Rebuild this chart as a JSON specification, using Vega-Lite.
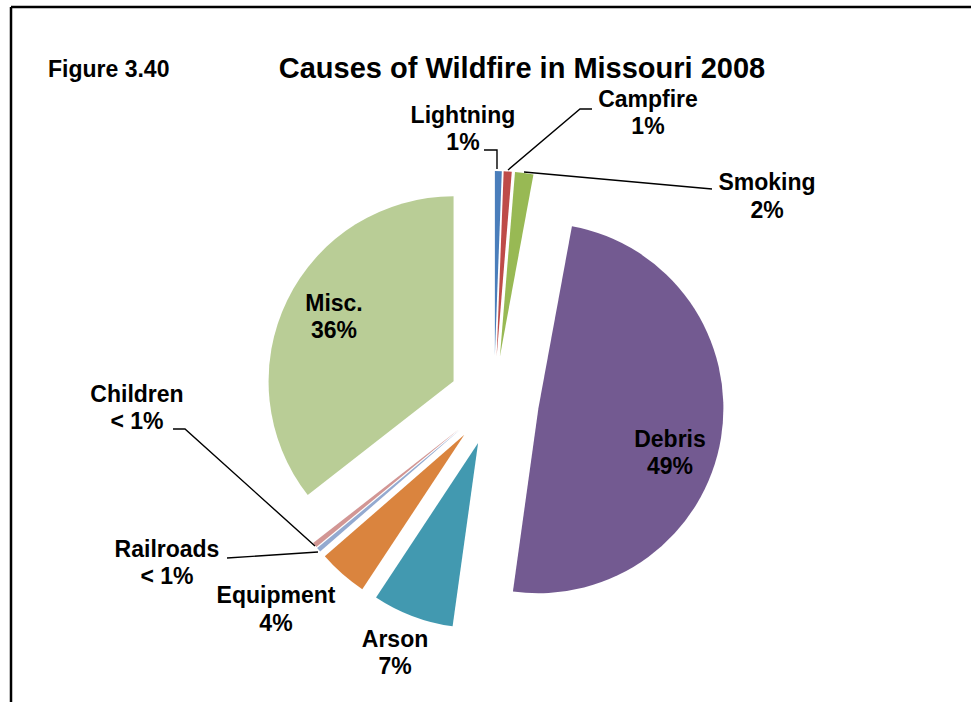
{
  "$schema": "https://vega.github.io/schema/vega-lite/v6.json",
  "width": 960,
  "height": 695,
  "autosize": {"type": "none"},
  "padding": {"left": 11, "top": 7, "right": 0, "bottom": 0},
  "background": "white",
  "config": {
    "view": {"stroke": null},
    "text": {"font": "Liberation Sans"}
  },
  "datasets": {
    "causes": [
      {"cause": "Lightning", "percent": 0.6, "order": 1},
      {"cause": "Campfire", "percent": 0.7, "order": 2},
      {"cause": "Smoking", "percent": 1.6, "order": 3},
      {"cause": "Debris", "percent": 49.3, "order": 4},
      {"cause": "Arson", "percent": 7.1, "order": 5},
      {"cause": "Equipment", "percent": 4.3, "order": 6},
      {"cause": "Railroads", "percent": 0.4, "order": 7},
      {"cause": "Children", "percent": 0.45, "order": 8},
      {"cause": "Misc.", "percent": 35.55, "order": 9}
    ],
    "labels": [
      {"cause": "Lightning", "label": "Lightning\n1%", "lx": -16.76, "ly": 150.27},
      {"cause": "Campfire", "label": "Campfire\n1%", "lx": 83.24, "ly": 158.92},
      {"cause": "Smoking", "label": "Smoking\n2%", "lx": 147.57, "ly": 114.05},
      {"cause": "Debris", "label": "Debris\n49%", "lx": 95.14, "ly": -24.86},
      {"cause": "Arson", "label": "Arson\n7%", "lx": -53.51, "ly": -132.97},
      {"cause": "Equipment", "label": "Equipment\n4%", "lx": -117.84, "ly": -109.19},
      {"cause": "Railroads", "label": "Railroads\n< 1%", "lx": -176.76, "ly": -84.32},
      {"cause": "Children", "label": "Children\n< 1%", "lx": -192.97, "ly": -0.54},
      {"cause": "Misc.", "label": "Misc.\n36%", "lx": -86.49, "ly": 48.65}
    ],
    "leaders": [
      {"cause": "Lightning", "seq": 1, "x": -5.41, "y": 135.68},
      {"cause": "Lightning", "seq": 2, "x": 1.62, "y": 135.68},
      {"cause": "Lightning", "seq": 3, "x": 1.62, "y": 125.41},
      {"cause": "Campfire", "seq": 1, "x": 52.97, "y": 157.84},
      {"cause": "Campfire", "seq": 2, "x": 46.49, "y": 157.84},
      {"cause": "Campfire", "seq": 3, "x": 7.57, "y": 124.86},
      {"cause": "Smoking", "seq": 1, "x": 117.84, "y": 114.59},
      {"cause": "Smoking", "seq": 2, "x": 16.22, "y": 123.78},
      {"cause": "Children", "seq": 1, "x": -173.51, "y": -15.14},
      {"cause": "Children", "seq": 2, "x": -167.03, "y": -15.14},
      {"cause": "Children", "seq": 3, "x": -96.76, "y": -78.38},
      {"cause": "Railroads", "seq": 1, "x": -144.32, "y": -84.86},
      {"cause": "Railroads", "seq": 2, "x": -95.14, "y": -81.62}
    ],
    "frame": [
      {"side": "left", "x": -261.08, "x2": -261.08, "y": -162.70, "y2": 212.97},
      {"side": "top", "x": -261.08, "x2": 257.84, "y": 212.97, "y2": 212.97}
    ]
  },
  "layer": [
    {
      "data": {"name": "causes"},
      "transform": [
        {"window": [{"op": "sum", "field": "percent", "as": "end"}], "sort": [{"field": "order"}], "frame": [null, 0]},
        {"calculate": "datum.end - datum.percent", "as": "start"},
        {"calculate": "PI * (datum.start + datum.end) / 100", "as": "mid"},
        {"calculate": "24.32 * sin(datum.mid)", "as": "cx"},
        {"calculate": "24.32 * cos(datum.mid)", "as": "cy"}
      ],
      "mark": {"type": "arc", "outerRadius": 185},
      "encoding": {
        "x": {"field": "cx", "type": "quantitative", "scale": {"domain": [-261.08, 257.84], "nice": false, "zero": false}, "axis": null},
        "y": {"field": "cy", "type": "quantitative", "scale": {"domain": [-162.70, 212.97], "nice": false, "zero": false}, "axis": null},
        "theta": {"field": "start", "type": "quantitative", "scale": {"domain": [0, 100], "range": [0, 6.283185307179586]}},
        "theta2": {"field": "end"},
        "color": {
          "field": "cause",
          "type": "nominal",
          "scale": {
            "domain": ["Lightning", "Campfire", "Smoking", "Debris", "Arson", "Equipment", "Railroads", "Children", "Misc."],
            "range": ["#4A7EBB", "#BE4B48", "#98B954", "#735A91", "#4299B0", "#DA843E", "#94AAD0", "#D29694", "#B9CD96"]
          },
          "legend": null
        }
      }
    },
    {
      "data": {"name": "frame"},
      "mark": {"type": "rule", "color": "black", "strokeWidth": 2.5},
      "encoding": {
        "x": {"field": "x", "type": "quantitative", "scale": {"domain": [-261.08, 257.84], "nice": false, "zero": false}, "axis": null},
        "x2": {"field": "x2"},
        "y": {"field": "y", "type": "quantitative", "scale": {"domain": [-162.70, 212.97], "nice": false, "zero": false}, "axis": null},
        "y2": {"field": "y2"}
      }
    },
    {
      "data": {"name": "leaders"},
      "mark": {"type": "line", "color": "black", "strokeWidth": 1.4},
      "encoding": {
        "x": {"field": "x", "type": "quantitative", "scale": {"domain": [-261.08, 257.84], "nice": false, "zero": false}, "axis": null},
        "y": {"field": "y", "type": "quantitative", "scale": {"domain": [-162.70, 212.97], "nice": false, "zero": false}, "axis": null},
        "detail": {"field": "cause", "type": "nominal"},
        "order": {"field": "seq", "type": "quantitative"}
      }
    },
    {
      "data": {"name": "labels"},
      "mark": {"type": "text", "align": "center", "baseline": "alphabetic", "lineBreak": "\n", "lineHeight": 27.5, "fontSize": 23, "fontWeight": "bold", "color": "black"},
      "encoding": {
        "x": {"field": "lx", "type": "quantitative", "scale": {"domain": [-261.08, 257.84], "nice": false, "zero": false}, "axis": null},
        "y": {"field": "ly", "type": "quantitative", "scale": {"domain": [-162.70, 212.97], "nice": false, "zero": false}, "axis": null},
        "text": {"field": "label", "type": "nominal"}
      }
    },
    {
      "data": {"values": [{"t": "Causes of Wildfire in Missouri 2008"}]},
      "mark": {"type": "text", "align": "center", "baseline": "alphabetic", "fontSize": 29, "fontWeight": "bold", "color": "black"},
      "encoding": {
        "x": {"datum": 15.14, "type": "quantitative", "scale": {"domain": [-261.08, 257.84], "nice": false, "zero": false}, "axis": null},
        "y": {"datum": 174.59, "type": "quantitative", "scale": {"domain": [-162.70, 212.97], "nice": false, "zero": false}, "axis": null},
        "text": {"field": "t", "type": "nominal"}
      }
    },
    {
      "data": {"values": [{"t": "Figure 3.40"}]},
      "mark": {"type": "text", "align": "left", "baseline": "alphabetic", "fontSize": 23, "fontWeight": "bold", "color": "black"},
      "encoding": {
        "x": {"datum": -241.08, "type": "quantitative", "scale": {"domain": [-261.08, 257.84], "nice": false, "zero": false}, "axis": null},
        "y": {"datum": 175.14, "type": "quantitative", "scale": {"domain": [-162.70, 212.97], "nice": false, "zero": false}, "axis": null},
        "text": {"field": "t", "type": "nominal"}
      }
    }
  ]
}
